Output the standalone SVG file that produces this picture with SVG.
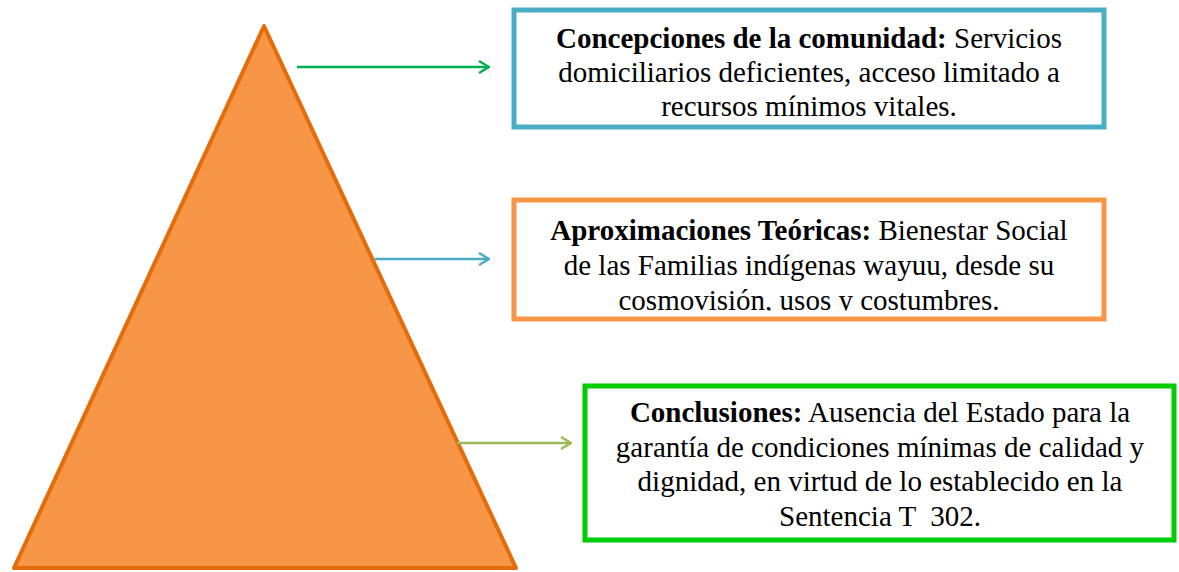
<svg xmlns="http://www.w3.org/2000/svg" width="1179" height="572" viewBox="0 0 1179 572">
<style>
text{font-family:"Liberation Serif","Times New Roman",serif;font-size:29px;fill:#000;text-anchor:middle;white-space:pre}
.b{font-weight:bold}
.box{fill:#fff;stroke-width:5}
.conn{fill:none;stroke-width:2.5}
</style>
<defs>
<marker id="mg" markerWidth="12" markerHeight="14" refX="11" refY="7" orient="auto" markerUnits="userSpaceOnUse"><path d="M1,1 L11,7 L1,13" fill="none" stroke="#00B050" stroke-width="2.5"/></marker>
<marker id="mb" markerWidth="12" markerHeight="14" refX="11" refY="7" orient="auto" markerUnits="userSpaceOnUse"><path d="M1,1 L11,7 L1,13" fill="none" stroke="#4BACC6" stroke-width="2.5"/></marker>
<marker id="ml" markerWidth="12" markerHeight="14" refX="11" refY="7" orient="auto" markerUnits="userSpaceOnUse"><path d="M1,1 L11,7 L1,13" fill="none" stroke="#9BBB59" stroke-width="2.5"/></marker>
<clipPath id="c2"><rect x="516" y="202" width="586" height="108.5"/></clipPath>
</defs>
<g id="triangle"><polygon points="264,26 14,568 516,568" fill="#F79646" stroke="#E46C0A" stroke-width="4" stroke-linejoin="round"/></g>
<g id="connectors">
<line class="conn" x1="297" y1="67" x2="489" y2="67" stroke="#00B050" marker-end="url(#mg)"/>
<line class="conn" x1="375" y1="259" x2="489" y2="259" stroke="#4BACC6" marker-end="url(#mb)"/>
<line class="conn" x1="457" y1="443" x2="571" y2="443" stroke="#9BBB59" marker-end="url(#ml)"/>
</g>
<g id="box1">
<rect class="box" x="514" y="10" width="590" height="117" stroke="#4BACC6"/>
<text x="809" y="48"><tspan class="b">Concepciones de la comunidad:</tspan> Servicios</text>
<text x="809" y="82">domiciliarios deficientes, acceso limitado a</text>
<text x="809" y="116">recursos mínimos vitales.</text>
</g>
<g id="box2">
<rect class="box" x="514" y="200" width="590" height="119" stroke="#F79646"/>
<g clip-path="url(#c2)">
<text x="809" y="240"><tspan class="b">Aproximaciones Teóricas:</tspan> Bienestar Social</text>
<text x="809" y="275">de las Familias indígenas wayuu, desde su</text>
<text x="809" y="310">cosmovisión, usos y costumbres.</text>
</g>
</g>
<g id="box3">
<rect class="box" x="585" y="386" width="589" height="154" stroke="#00CC00"/>
<text x="880" y="422"><tspan class="b">Conclusiones:</tspan> Ausencia del Estado para la</text>
<text x="880" y="456.5"><tspan>garantía de condiciones mínimas de calidad y</tspan></text>
<text x="880" y="491">dignidad, en virtud de lo establecido en la</text>
<text x="880" y="525.5">Sentencia T  302.</text>
</g>
</svg>
